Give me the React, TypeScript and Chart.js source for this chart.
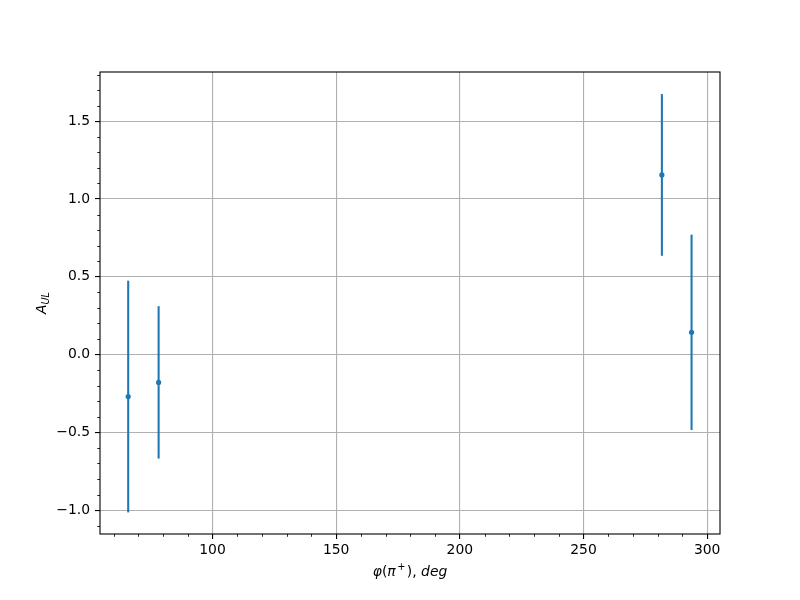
import React, { useEffect, useRef } from 'react';
import { Chart, registerables } from 'chart.js';

Chart.register(...registerables);

// Data
const phiDeg = [65.9, 78.2, 281.7, 293.7];
const aUL = [-0.27, -0.179, 1.155, 0.143];
const aULErr = [0.745, 0.49, 0.52, 0.628];

// Axis ticks
const xMajorTicks = [100, 150, 200, 250, 300];
const xMinorTicks = [60, 70, 80, 90, 110, 120, 130, 140, 160, 170, 180, 190, 210, 220, 230, 240, 260, 270, 280, 290];
const yMajorTicks = [-1.0, -0.5, 0.0, 0.5, 1.0, 1.5];
const yMinorTicks = [-1.1, -0.9, -0.8, -0.7, -0.6, -0.4, -0.3, -0.2, -0.1, 0.1, 0.2, 0.3, 0.4, 0.6, 0.7, 0.8, 0.9, 1.1, 1.2, 1.3, 1.4, 1.6, 1.7, 1.8];

const X_MIN = 54.5;
const X_MAX = 305.2;
const Y_MIN = -1.154;
const Y_MAX = 1.817;

const BLUE = '#1f77b4';
const FONT = 'DejaVu Sans';
const FS = 13.9;

const errorBarPlugin = {
  id: 'errorBars',
  beforeDatasetsDraw(chart: any) {
    const { ctx, chartArea, scales } = chart;
    ctx.save();
    ctx.beginPath();
    ctx.rect(chartArea.left, chartArea.top, chartArea.right - chartArea.left, chartArea.bottom - chartArea.top);
    ctx.clip();
    ctx.strokeStyle = BLUE;
    ctx.lineWidth = 2.08;
    ctx.lineCap = 'butt';
    for (let i = 0; i < phiDeg.length; i++) {
      const x = scales.x.getPixelForValue(phiDeg[i]);
      const y1 = scales.y.getPixelForValue(aUL[i] - aULErr[i]);
      const y2 = scales.y.getPixelForValue(aUL[i] + aULErr[i]);
      ctx.beginPath();
      ctx.moveTo(x, y1);
      ctx.lineTo(x, y2);
      ctx.stroke();
    }
    ctx.restore();
  },
};

function drawRuns(ctx: CanvasRenderingContext2D, runs: { t: string; font: string; dy: number; gap?: number }[], cx: number, baseY: number) {
  let total = 0;
  for (const r of runs) {
    ctx.font = r.font;
    total += ctx.measureText(r.t).width + (r.gap || 0);
  }
  let x = cx - total / 2;
  for (const r of runs) {
    ctx.font = r.font;
    ctx.fillText(r.t, x, baseY + r.dy);
    x += ctx.measureText(r.t).width + (r.gap || 0);
  }
}

const decorPlugin = {
  id: 'decor',
  afterDraw(chart: any) {
    const { ctx, chartArea, scales } = chart;
    ctx.save();
    // minor ticks
    ctx.strokeStyle = '#000';
    ctx.lineWidth = 0.83;
    for (const v of xMinorTicks) {
      const x = Math.round(scales.x.getPixelForValue(v)) + 0.5;
      ctx.beginPath();
      ctx.moveTo(x, chartArea.bottom);
      ctx.lineTo(x, chartArea.bottom + 2.8);
      ctx.stroke();
    }
    for (const v of yMinorTicks) {
      const y = Math.round(scales.y.getPixelForValue(v)) + 0.5;
      ctx.beginPath();
      ctx.moveTo(chartArea.left, y);
      ctx.lineTo(chartArea.left - 2.8, y);
      ctx.stroke();
    }
    // spines
    ctx.lineWidth = 1.1;
    ctx.strokeRect(chartArea.left, chartArea.top, chartArea.right - chartArea.left, chartArea.bottom - chartArea.top);

    // x title: φ(π⁺), deg
    ctx.fillStyle = '#000';
    ctx.textBaseline = 'alphabetic';
    ctx.textAlign = 'left';
    const it = `italic ${FS}px "${FONT}"`;
    const rm = `${FS}px "${FONT}"`;
    const sup = `${FS * 0.7}px "${FONT}"`;
    const cx = (chartArea.left + chartArea.right) / 2;
    drawRuns(ctx, [
      { t: 'φ', font: it, dy: 0 },
      { t: '(', font: rm, dy: 0 },
      { t: 'π', font: it, dy: 0, gap: 1.5 },
      { t: '+', font: sup, dy: -6, gap: 1.5 },
      { t: ')', font: rm, dy: 0 },
      { t: ', ', font: rm, dy: 0 },
      { t: 'deg', font: it, dy: 0 },
    ], cx, 575.5);

    // y title: A_UL
    const cy = (chartArea.top + chartArea.bottom) / 2;
    ctx.translate(46, cy);
    ctx.rotate(-Math.PI / 2);
    drawRuns(ctx, [
      { t: 'A', font: it, dy: 0 },
      { t: 'UL', font: `italic ${FS * 0.7}px "${FONT}"`, dy: 3 },
    ], 0, 0);
    ctx.restore();
  },
};

export default function App() {
  const ref = useRef<HTMLCanvasElement | null>(null);
  useEffect(() => {
    document.body.style.margin = '0';
    const canvas = ref.current;
    if (!canvas) return;
    const chart = new Chart(canvas, {
      type: 'scatter',
      data: {
        datasets: [
          {
            data: phiDeg.map((x, i) => ({ x, y: aUL[i] })),
            backgroundColor: BLUE,
            borderColor: BLUE,
            pointRadius: 2.6,
            pointBorderWidth: 0,
            pointHoverRadius: 2.6,
          },
        ],
      },
      options: {
        responsive: false,
        animation: false,
        devicePixelRatio: 1,
        layout: { padding: { left: 0, right: 80, top: 72, bottom: 0 } },
        plugins: { legend: { display: false }, tooltip: { enabled: false } },
        events: [],
        scales: {
          x: {
            type: 'linear',
            min: X_MIN,
            max: X_MAX,
            afterBuildTicks: (s: any) => {
              s.ticks = xMajorTicks.map((v) => ({ value: v }));
            },
            afterFit: (s: any) => {
              s.height = 66;
            },
            grid: { color: '#b0b0b0', lineWidth: 1.1, tickLength: 5, tickColor: '#000', tickWidth: 1.1, drawTicks: true },
            border: { display: false },
            ticks: {
              color: '#000',
              font: { family: FONT, size: FS },
              padding: 3,
              maxRotation: 0,
              autoSkip: false,
              callback: (v: any) => String(v),
            },
          },
          y: {
            type: 'linear',
            min: Y_MIN,
            max: Y_MAX,
            afterBuildTicks: (s: any) => {
              s.ticks = yMajorTicks.map((v) => ({ value: v }));
            },
            afterFit: (s: any) => {
              s.width = 100;
            },
            grid: { color: '#b0b0b0', lineWidth: 1.1, tickLength: 5, tickColor: '#000', tickWidth: 1.1, drawTicks: true },
            border: { display: false },
            ticks: {
              color: '#000',
              font: { family: FONT, size: FS },
              padding: 5,
              autoSkip: false,
              callback: (v: any) => (v < 0 ? '\u2212' : '') + Math.abs(Number(v)).toFixed(1),
            },
          },
        },
      },
      plugins: [errorBarPlugin, decorPlugin],
    } as any);
    return () => chart.destroy();
  }, []);
  return <canvas ref={ref} width={800} height={600} style={{ display: 'block', width: 800, height: 600 }} />;
}
